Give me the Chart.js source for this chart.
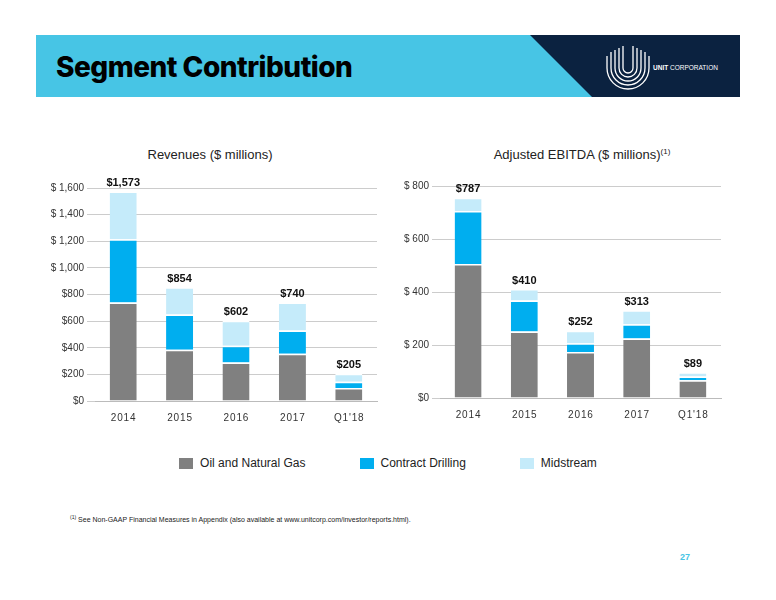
<!DOCTYPE html>
<html><head><meta charset="utf-8">
<script src="https://cdn.jsdelivr.net/npm/chart.js@4"></script>
<style>
body{margin:0;width:776px;height:600px;background:#fff;font-family:"Liberation Sans",Arial,sans-serif;position:relative;overflow:hidden}
.abs{position:absolute}
#hdr{left:36px;top:35px;width:704px;height:62px;background:#47C5E5}
#navy{left:530px;top:35px;width:210px;height:62px;background:#0B2240;clip-path:polygon(0 0,100% 0,100% 100%,62px 100%)}
#title{left:56px;top:50px;font-family:Inter,"Liberation Sans";font-weight:800;font-size:28px;color:#000;letter-spacing:-0.5px}
.ct{font-size:13px;color:#222;text-align:center;width:340px}
#legend{top:456px;left:0;width:776px;display:flex;justify-content:center;font-size:12px;color:#222}
#legend span{display:flex;align-items:center;margin:0 27px}
#legend i{display:inline-block;width:14px;height:11px;margin-right:7px}
</style></head><body>
<div id="hdr" class="abs"></div>
<div id="navy" class="abs"></div>
<svg class="abs" style="left:605px;top:42px" width="140" height="50">
<g fill="none" stroke="#fff" stroke-width="1.3">
<path d="M6 10 V26 A17 17 0 0 0 40 26 V10"/>
<path d="M10 8 V26 A13 13 0 0 0 36 26 V8"/>
<path d="M14 6 V26 A9 9 0 0 0 32 26 V6"/>
<path d="M18 4 V26 A5 5 0 0 0 28 26 V4"/>
<path d="M2 14 V26 A21 21 0 0 0 44 26 V14"/>
</g>
<text x="48" y="28" fill="#fff" font-size="6.5" font-family="Liberation Sans"><tspan font-weight="bold">UNIT</tspan> CORPORATION</text>
</svg>
<div id="title" class="abs">Segment Contribution</div>
<div class="abs ct" style="left:40px;top:147px">Revenues ($ millions)</div>
<div class="abs ct" style="left:412px;top:147px">Adjusted EBITDA ($ millions)<sup style="font-size:8px">(1)</sup></div>
<div class="abs" style="left:40px;top:170px;width:345px;height:257px"><canvas id="c1"></canvas></div>
<div class="abs" style="left:398px;top:170px;width:345px;height:254px"><canvas id="c2"></canvas></div>
<div id="legend" class="abs">
<span><i style="background:#808080"></i>Oil and Natural Gas</span>
<span><i style="background:#00AEEF"></i>Contract Drilling</span>
<span><i style="background:#C5EBFA"></i>Midstream</span>
</div>
<div class="abs" style="left:70px;top:514px;font-size:7px;color:#222"><sup style="font-size:5px">(1)</sup> See Non-GAAP Financial Measures in Appendix (also available at www.unitcorp.com/investor/reports.html).</div>
<div class="abs" style="left:680px;top:552px;font-size:9px;color:#47C5E5;font-weight:bold">27</div>
<script>
const categories=["2014","2015","2016","2017","Q1'18"];
const revOil=[740,385,290,355,97];
const revDrill=[475,265,125,175,48];
const revMid=[358,204,187,210,60];
const revTotals=["$1,573","$854","$602","$740","$205"];
const ebOil=[506,251,174,225,67];
const ebDrill=[200,117,33,53,14];
const ebMid=[50,43,47,53,16];
const ebTotals=["$787","$410","$252","$313","$89"];
const revTicks=[0,200,400,600,800,1000,1200,1400,1600];
const ebTicks=[0,200,400,600,800];
const colors=["#808080","#00AEEF","#C5EBFA"];
const totalsPlugin={id:"totals",afterDatasetsDraw(ch,a,opts){
 const ctx=ch.ctx;const meta=ch.getDatasetMeta(2);
 ctx.save();ctx.font="bold 11px 'Liberation Sans'";ctx.fillStyle="#111";ctx.textAlign="center";ctx.textBaseline="bottom";
 meta.data.forEach((b,i)=>{ctx.fillText(opts.labels[i],b.x,b.y-3);});ctx.restore();}};
function make(id,d,totals,ticks,max,axisW,pad,fmt){
 new Chart(document.getElementById(id),{type:"bar",
 data:{labels:categories,datasets:d.map((v,i)=>({data:v,backgroundColor:colors[i],borderColor:"#fff",borderWidth:{top:1.5},borderSkipped:false,barPercentage:0.48,categoryPercentage:1}))},
 plugins:[totalsPlugin],
 options:{responsive:true,maintainAspectRatio:false,animation:false,
  layout:{padding:pad},
  plugins:{legend:{display:false},tooltip:{enabled:false},totals:{labels:totals}},
  scales:{x:{stacked:true,grid:{display:false},border:{color:"#bbb"},ticks:{color:"#333",font:{size:10,family:"'Liberation Sans'"},callback:(v,i)=>categories[i].split("").join("\u200A")}},
   y:{stacked:true,min:0,max:max,afterBuildTicks(ax){ax.ticks=ticks.map(v=>({value:v}));},afterFit(ax){ax.width=axisW;},
    border:{display:false},grid:{color:"#ccc"},
    ticks:{color:"#333",font:{size:10,family:"'Liberation Sans'"},callback:fmt}}}}});
}
make("c1",[revOil,revDrill,revMid],revTotals,revTicks,1600,55,{top:18,right:8},v=>v===0?"$0":(v>=1000?"$ "+v.toLocaleString("en-US"):"$"+v));
make("c2",[ebOil,ebDrill,ebMid],ebTotals,ebTicks,800,42,{top:16,right:22},v=>v===0?"$0":"$ "+v);
</script></body></html>
